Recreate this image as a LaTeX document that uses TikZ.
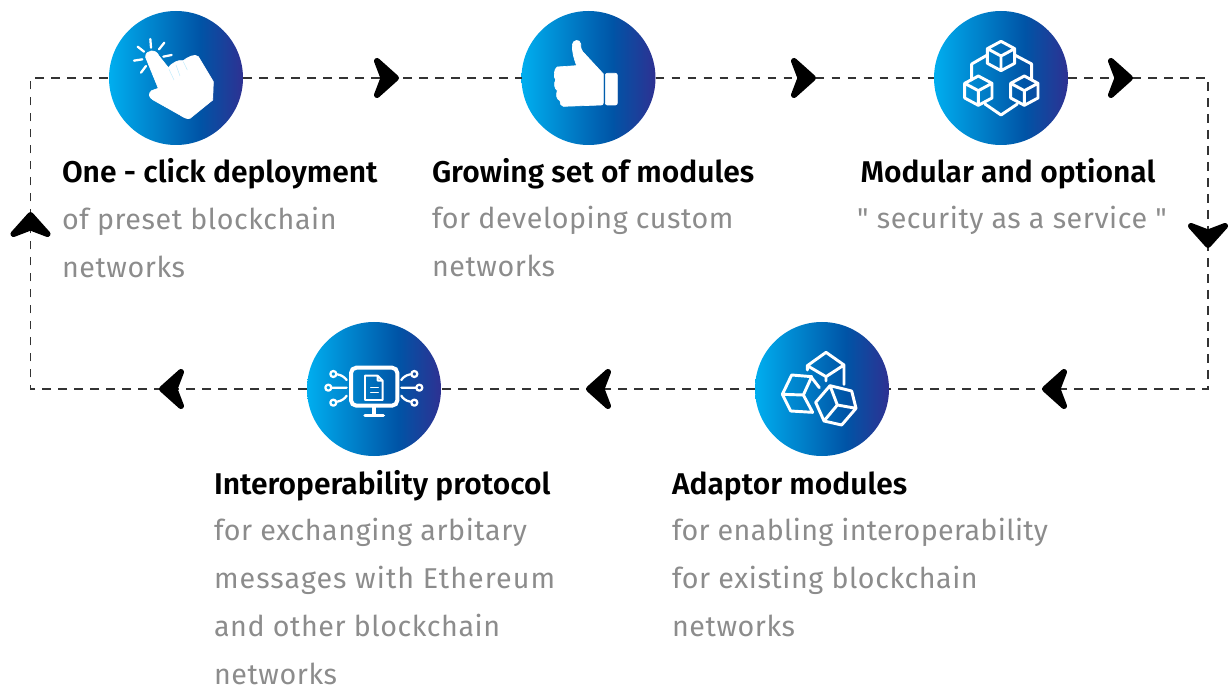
\documentclass[tikz,border=0pt]{standalone}
\usepackage{fontspec}
\setmainfont{Fira Sans}
\newfontfamily\bodyfont[LetterSpace=2]{Fira Sans}
\newfontfamily\bodywide[LetterSpace=3.7]{Fira Sans}
\newfontfamily\bodytight[LetterSpace=1.2]{Fira Sans}
\newfontfamily\headfont{Fira Sans SemiBold}
\definecolor{gA}{HTML}{00AEEF}
\definecolor{gB}{HTML}{0054A6}
\definecolor{gC}{HTML}{2E3192}
\definecolor{bodygrey}{HTML}{8C8C8C}
\definecolor{dashcol}{HTML}{333333}
\pgfdeclarehorizontalshading{discshade}{100bp}{color(0bp)=(gA); color(25bp)=(gA); color(59bp)=(gB); color(75bp)=(gC); color(100bp)=(gC)}
\tikzset{
  disc/.style={circle,minimum size=134*0.75pt,inner sep=0pt,outer sep=0pt,shading=discshade},
  flow/.style={dashcol,line width=0.9pt,dash pattern=on 6.5pt off 5.5pt},
  headtext/.style={anchor=base west,inner sep=0pt,outer sep=0pt,font=\headfont\fontsize{22.5}{27}\selectfont,text=black},
  bodytext/.style={anchor=base west,inner sep=0pt,outer sep=0pt,font=\bodyfont\fontsize{21.5}{27}\selectfont,text=bodygrey},
  arrowhd/.style={fill=black,draw=black,line width=4.5pt,line join=round},
  zoomed/.style={shift={#1},x=0.25pt,y=-0.25pt},
  iconfill/.style={fill=white,draw=white,line width=0.5pt,line join=round},
  iconline/.style={draw=white,line width=2.2pt,line join=round,line cap=round},
  iconthin/.style={draw=white,line width=1.4pt,line join=round,line cap=round},
}
\newcommand{\headarrow}[3]{\fill[arrowhd,shift={(#1,#2)},rotate=#3] (10,0) -- (-9,-17) -- (-2.5,0) -- (-9,17) -- cycle;}
\newcommand{\cubeicon}[3]{\draw[iconline] (#1,#2-44) -- (#1+#3,#2-22) -- (#1+#3,#2+22) -- (#1,#2+44) -- (#1-#3,#2+22) -- (#1-#3,#2-22) -- cycle (#1-#3,#2-22) -- (#1,#2) -- (#1+#3,#2-22) (#1,#2) -- (#1,#2+44);}
\begin{document}
\begin{tikzpicture}[x=0.75pt,y=-0.75pt]
\useasboundingbox (0,0) rectangle (1231,691);
% discs
\node[disc] (c1) at (176,78) {};
\node[disc] (c2) at (588.5,78) {};
\node[disc] (c3) at (1001,78) {};
\node[disc] (c4) at (822,389) {};
\node[disc] (c5) at (374,389) {};
\coordinate (tr) at (1208,78);
\coordinate (br) at (1208,389);
\coordinate (bl) at (30.5,389);
\coordinate (tl) at (30.5,78);
% connectors
\draw[flow] (c1) -- (c2);
\draw[flow] (c2) -- (c3);
\draw[flow] (c3) -- (tr) -- (br) -- (c4);
\draw[flow] (c4) -- (c5);
\draw[flow] (c5) -- (bl) -- (tl) -- (c1);
% arrowheads
\headarrow{386}{78}{0}
\headarrow{803}{78}{0}
\headarrow{1120}{78}{0}
\headarrow{1208}{235}{-90}
\headarrow{1055}{389}{180}
\headarrow{599}{389}{180}
\headarrow{172}{389}{180}
\headarrow{30.5}{225}{90}
% hand icon
\begin{scope}[zoomed={(100,0)}]
  \fill[iconfill] (137,172) .. controls (135,150) and (168,145) .. (177,168) -- (205,203) .. controls (215,190) and (235,178) .. (250,182) .. controls (262,172) and (285,160) .. (295,170) -- (340,245) -- (338,300) -- (270,355) .. controls (262,358) and (250,352) .. (240,345) -- (160,300) .. controls (145,292) and (145,280) .. (155,272) -- (175,265) -- cycle;
  \draw[draw=gA!25!white,line width=0.35pt] (207,208) -- (222,240) (228,195) -- (240,228) (250,185) -- (262,210);
  \draw[iconline,line width=1.7pt] (113,140) -- (132,155) (151,117) -- (153,143) (193,128) -- (177,148) (190,170) -- (215,165) (102,182) -- (127,178) (123,218) -- (138,198);
\end{scope}
% thumb icon
\begin{scope}[zoomed={(515,0)}]
  \fill[iconfill] (172,135) .. controls (172,120) and (195,115) .. (197,132) .. controls (197,145) and (198,148) .. (203,155) -- (265,222) -- (265,308) .. controls (265,314) and (262,315) .. (258,315) -- (145,319) .. controls (138,319) and (135,310) .. (135,302) .. controls (125,298) and (122,285) .. (127,272) .. controls (118,265) and (116,250) .. (122,240) .. controls (115,232) and (117,205) .. (127,201) -- (185,197) .. controls (175,170) and (172,155) .. (172,135) -- cycle;
  \fill[iconfill,rounded corners=1.5pt] (271,220) rectangle (307,315);
\end{scope}
% linked cubes icon
\begin{scope}[zoomed={(930,0)}]
  \cubeicon{213}{168}{41}
  \cubeicon{145}{272}{41}
  \cubeicon{283}{272}{41}
  \draw[iconline] (172,165) -- (125,192) -- (125,240) (254,165) -- (305,192) -- (305,240) (165,312) -- (213,345) -- (262,312);
\end{scope}
% adaptor icon
\begin{scope}[zoomed={(750,315)}]
  \draw[iconline] (172,165) -- (172,152) -- (228,112) -- (282,150) -- (228,185) -- (172,152) (228,185) -- (228,198) (282,150) -- (282,208);
  \draw[iconline] (125,180) -- (185,185) -- (160,240) -- (97,238) -- cycle (97,238) -- (122,288) -- (188,292) -- (160,240) (185,188) -- (208,218);
  \draw[iconline] (240,212) -- (305,228) -- (318,280) -- (275,330) -- (222,318) -- (197,262) -- cycle (240,212) -- (262,270) -- (318,280) (262,270) -- (222,318);
\end{scope}
% monitor icon
\begin{scope}[zoomed={(300,315)}]
  \draw[draw=white,line width=3pt,rounded corners=4pt] (153,158) rectangle (292,272);
  \draw[iconline,line width=2.6pt] (222,275) -- (222,297) (195,301) -- (250,301);
  \draw[iconthin] (195,182) -- (233,182) -- (248,197) -- (248,255) -- (195,255) -- cycle (233,182) -- (233,197) -- (248,197);
  \draw[iconthin,line width=1pt] (212,217) -- (235,217) (212,232) -- (235,232);
  \draw[iconline,line width=1.7pt] (100,177) circle (9) (85,218) circle (9) (100,263) circle (9) (343,177) circle (9) (358,218) circle (9) (343,263) circle (9);
  \draw[iconline,line width=1.7pt] (112,178) .. controls (125,180) and (135,188) .. (140,195) (95,218) -- (140,218) (112,260) .. controls (125,258) and (135,250) .. (140,242) (331,178) .. controls (318,180) and (308,188) .. (304,195) (348,218) -- (304,218) (331,260) .. controls (318,258) and (308,250) .. (304,242);
\end{scope}
% texts
\node[headtext] (h1) at (62,183) {One - click deployment};
\node[bodytext] (b1a) at (62,230) {of preset blockchain};
\node[bodytext] (b1b) at (62,278) {networks};
\node[headtext] (h2) at (432,183) {Growing set of modules};
\node[bodytext] (b2a) at (432,229) {for developing custom};
\node[bodytext] (b2b) at (432,277) {networks};
\node[headtext,anchor=base] (h3) at (1008,183) {Modular and optional};
\node[bodytext,anchor=base] (b3a) at (1012,229) {" security as a service "};
\node[headtext] (h4) at (214,494) {Interoperability protocol};
\node[bodytext] (b4a) at (214,540) {for exchanging arbitary};
\node[bodytext,font=\bodywide\fontsize{21.5}{27}\selectfont] (b4b) at (214,588) {messages with Ethereum};
\node[bodytext] (b4c) at (214,636) {and other blockchain};
\node[bodytext] (b4d) at (214,684) {networks};
\node[headtext] (h5) at (672,494) {Adaptor modules};
\node[bodytext,font=\bodytight\fontsize{21.5}{27}\selectfont] (b5a) at (672,540) {for enabling interoperability};
\node[bodytext] (b5b) at (672,588) {for existing blockchain};
\node[bodytext] (b5c) at (672,636) {networks};
\end{tikzpicture}
\end{document}
